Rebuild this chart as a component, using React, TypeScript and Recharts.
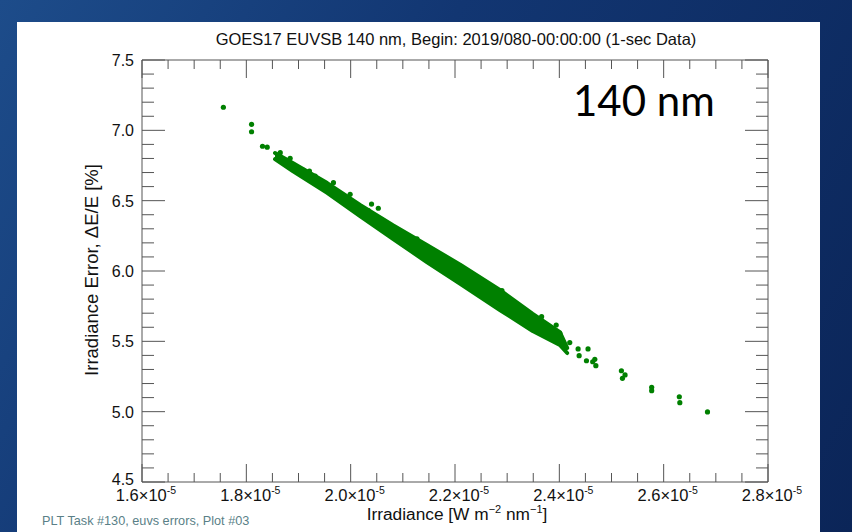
import { ComposedChart, Area, Scatter, XAxis, YAxis } from "recharts";

// Irradiance in units of 1e-5 W m^-2 nm^-1, error in %
const bandX = [1.855, 1.889, 1.955, 2.018, 2.081, 2.146, 2.21, 2.286, 2.349, 2.401, 2.415];
const bandLow = [6.796, 6.711, 6.555, 6.391, 6.228, 6.064, 5.908, 5.723, 5.573, 5.474, 5.417];
const bandHigh = [6.839, 6.768, 6.625, 6.47, 6.325, 6.185, 6.045, 5.865, 5.695, 5.565, 5.453];

const pointX = [
  1.756, 1.81, 1.81, 1.831, 1.84, 1.865, 1.884, 1.909, 1.921, 1.932, 1.967, 1.971, 1.999, 2.008,
  2.034, 2.04, 2.053, 2.059, 2.072, 2.107, 2.127, 2.142, 2.158, 2.165, 2.185, 2.235, 2.245, 2.273,
  2.29, 2.29, 2.299, 2.312, 2.347, 2.355, 2.366, 2.362, 2.383, 2.394, 2.401, 2.39, 2.42, 2.436,
  2.455, 2.438, 2.452, 2.464, 2.468, 2.47, 2.519, 2.526, 2.521, 2.577, 2.577, 2.63, 2.631, 2.684,
];
const pointY = [
  7.164, 7.043, 6.99, 6.887, 6.88, 6.841, 6.801, 6.718, 6.711, 6.675, 6.628, 6.576, 6.545, 6.476,
  6.429, 6.476, 6.446, 6.368, 6.327, 6.208, 6.228, 6.185, 6.126, 6.119, 6.062, 5.936, 5.917, 5.842,
  5.86, 5.799, 5.77, 5.742, 5.675, 5.664, 5.675, 5.64, 5.593, 5.616, 5.557, 5.522, 5.491, 5.446,
  5.446, 5.398, 5.362, 5.355, 5.372, 5.327, 5.291, 5.261, 5.237, 5.173, 5.149, 5.106, 5.064, 4.998,
];

const xMajor = [1.6, 1.8, 2.0, 2.2, 2.4, 2.6, 2.8];
const xTickLabels = ["1.6", "1.8", "2.0", "2.2", "2.4", "2.6", "2.8"];
const xMinor = [
  1.65, 1.7, 1.75, 1.85, 1.9, 1.95, 2.05, 2.1, 2.15, 2.25, 2.3, 2.35, 2.45, 2.5, 2.55, 2.65, 2.7, 2.75,
];
const yMajor = [4.5, 5.0, 5.5, 6.0, 6.5, 7.0, 7.5];
const yTickLabels = ["4.5", "5.0", "5.5", "6.0", "6.5", "7.0", "7.5"];
const yMinor = [
  4.6, 4.7, 4.8, 4.9, 5.1, 5.2, 5.3, 5.4, 5.6, 5.7, 5.8, 5.9, 6.1, 6.2, 6.3, 6.4, 6.6, 6.7, 6.8, 6.9,
  7.1, 7.2, 7.3, 7.4,
];

const bandData = bandX.map((x, i) => ({ x, range: [bandLow[i], bandHigh[i]] }));
const points = pointX.map((x, i) => ({ x, y: pointY[i] }));

const GREEN = "#008000";
const AXIS = "#555";
const FONT = "'Liberation Sans', Arial, Helvetica, sans-serif";

const idx = (arr: number[], v: number) => arr.findIndex((a) => Math.abs(a - v) < 1e-6);

const XTick = (p: any, side: "top" | "bottom") => {
  const i = idx(xMajor, p.payload.value);
  const len = i >= 0 ? 18 : 9;
  const dir = side === "bottom" ? -1 : 1;
  return (
    <g>
      <line x1={p.x} x2={p.x} y1={p.y} y2={p.y + dir * len} stroke={AXIS} />
      {side === "bottom" && i >= 0 && (
        <text x={p.x + 4} y={p.y + 19} textAnchor="middle" fontFamily={FONT} fontSize={16.5} fill="#111">
          {xTickLabels[i]}×10
          <tspan dy={-7} fontSize={10.5}>-5</tspan>
        </text>
      )}
    </g>
  );
};

const YTick = (p: any, side: "left" | "right") => {
  const i = idx(yMajor, p.payload.value);
  const len = i >= 0 ? 23 : 12;
  const dir = side === "left" ? 1 : -1;
  const shift = i === 0 ? 3 : 6;
  return (
    <g>
      <line x1={p.x} x2={p.x + dir * len} y1={p.y} y2={p.y} stroke={AXIS} />
      {side === "left" && i >= 0 && (
        <text x={p.x - 8} y={p.y + shift} textAnchor="end" fontFamily={FONT} fontSize={16} fill="#111">
          {yTickLabels[i]}
        </text>
      )}
    </g>
  );
};

const xAxisCommon = {
  dataKey: "x",
  type: "number" as const,
  domain: [1.6, 2.8],
  allowDataOverflow: true,
  ticks: [...xMajor, ...xMinor],
  interval: 0 as const,
  height: 20,
  tickSize: 0,
  tickMargin: 0,
  tickLine: false,
  axisLine: { stroke: AXIS },
};

const yAxisCommon = {
  type: "number" as const,
  domain: [4.5, 7.5],
  allowDataOverflow: true,
  ticks: [...yMajor, ...yMinor],
  interval: 0 as const,
  width: 20,
  tickSize: 0,
  tickMargin: 0,
  tickLine: false,
  axisLine: { stroke: AXIS },
};

export default function App() {
  return (
    <div
      style={{
        position: "absolute",
        left: 0,
        top: 0,
        width: 852,
        height: 532,
        background: "linear-gradient(120deg, #1d4c8a 0%, #123672 40%, #0b2558 100%)",
        overflow: "hidden",
      }}
    >
      <div style={{ position: "absolute", left: 17, top: 22, width: 803, height: 510, background: "#fff" }} />
      <div style={{ position: "absolute", left: 0, top: 0 }}>
        <ComposedChart
          width={852}
          height={532}
          data={bandData}
          margin={{ top: 40, right: 64, bottom: 30, left: 122 }}
        >
          <XAxis xAxisId={0} {...xAxisCommon} tick={(p: any) => XTick(p, "bottom")} />
          <XAxis xAxisId="top" orientation="top" {...xAxisCommon} tick={(p: any) => XTick(p, "top")} />
          <YAxis yAxisId={0} {...yAxisCommon} tick={(p: any) => YTick(p, "left")} />
          <YAxis
            yAxisId="right"
            orientation="right"
            {...yAxisCommon}
            tick={(p: any) => YTick(p, "right")}
          />
          <Area
            dataKey="range"
            type="linear"
            fill={GREEN}
            fillOpacity={1}
            stroke={GREEN}
            strokeWidth={4}
            strokeLinejoin="round"
            strokeLinecap="round"
            isAnimationActive={false}
            dot={false}
            activeDot={false}
          />
          <Scatter
            data={points}
            dataKey="y"
            fill={GREEN}
            isAnimationActive={false}
            shape={(p: any) => <circle cx={p.cx} cy={p.cy} r={2.6} fill={GREEN} />}
          />
          <text x={456} y={45} textAnchor="middle" fontFamily={FONT} fontSize={16.5} fill="#111">
            GOES17 EUVSB 140 nm, Begin: 2019/080-00:00:00 (1-sec Data)
          </text>
          <text x={573} y={116} fontFamily="Lato, 'Open Sans', sans-serif" fontSize={42} fill="#000">
            140 nm
          </text>
          <text
            x={98}
            y={270}
            transform="rotate(-90 98 270)"
            textAnchor="middle"
            fontFamily={FONT}
            fontSize={18.5}
            fill="#111"
          >
            Irradiance Error, ΔE/E [%]
          </text>
          <text x={457} y={520} textAnchor="middle" fontFamily={FONT} fontSize={17.3} fill="#111">
            Irradiance [W m<tspan dy={-7} fontSize={11}>−2</tspan>
            <tspan dy={7}> nm</tspan>
            <tspan dy={-7} fontSize={11}>−1</tspan>
            <tspan dy={7}>]</tspan>
          </text>
          <text x={42} y={525} fontFamily={FONT} fontSize={12.7} fill="#5a7f87">
            PLT Task #130, euvs errors, Plot #03
          </text>
        </ComposedChart>
      </div>
    </div>
  );
}
